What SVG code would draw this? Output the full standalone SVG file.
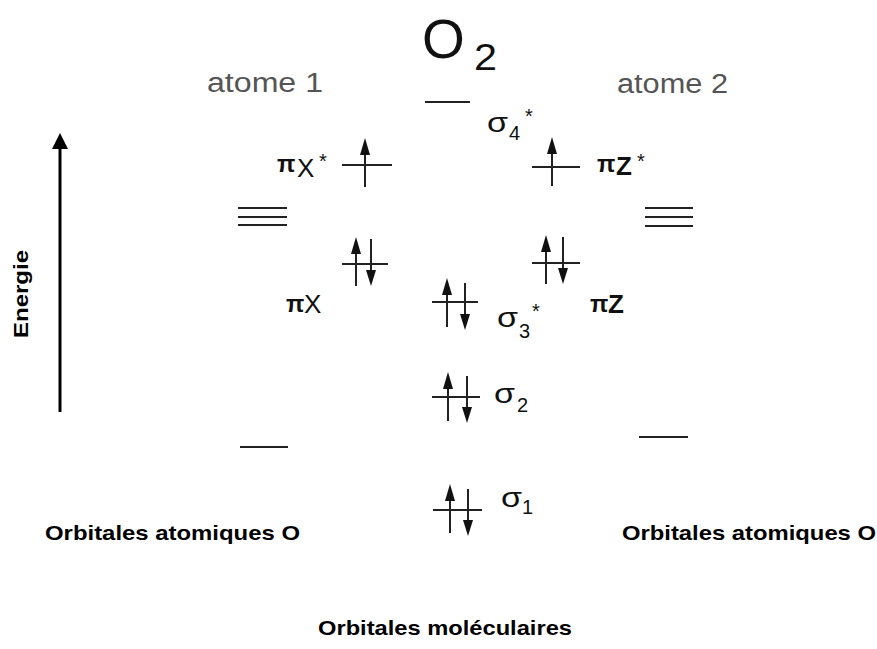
<svg xmlns="http://www.w3.org/2000/svg" xmlns:xlink="http://www.w3.org/1999/xlink" width="877" height="649" viewBox="0 0 877 649">
<style>
.lvl{stroke:#222;stroke-width:2;fill:none}
.t{font-family:"Liberation Sans",Arial,sans-serif;fill:#111}
.g{font-family:"Liberation Sans",Arial,sans-serif;fill:#555;font-size:27px}
.b{font-family:"Liberation Sans",Arial,sans-serif;font-weight:bold;font-size:21px;fill:#000}
.sig{font-size:28px}
.sub{font-size:20px}
.pi{font-size:24px;font-weight:bold}
.ax{font-size:26px}
.st{font-size:20px}
</style>
<defs>
<g id="up"><line x1="0" y1="6" x2="0" y2="49" stroke="#222" stroke-width="2"/><polygon points="0,0 -5,17 5,17" fill="#111"/></g>
<g id="down"><line x1="0" y1="0" x2="0" y2="42" stroke="#222" stroke-width="2"/><polygon points="0,47 -5,31 5,31" fill="#111"/></g>
</defs>

<g id="title"><text class="t" x="422" y="58" font-size="55">O</text><text class="t" x="474" y="70" font-size="36" textLength="23" lengthAdjust="spacingAndGlyphs">2</text></g>
<g id="atome1"><text class="g" x="207" y="92" textLength="116" lengthAdjust="spacingAndGlyphs">atome 1</text></g>
<g id="atome2"><text class="g" x="617" y="93" textLength="111" lengthAdjust="spacingAndGlyphs">atome 2</text></g>

<g id="axis">
<line x1="60" y1="412" x2="60" y2="146" stroke="#000" stroke-width="3"/>
<polygon points="60,133 52,149 68,149" fill="#000"/>
<text class="b" transform="translate(28,294) rotate(-90)" text-anchor="middle" textLength="88" lengthAdjust="spacingAndGlyphs">Energie</text>
</g>

<g id="sigma4">
<line class="lvl" x1="425" y1="102" x2="470" y2="102"/>
<text class="t sig" x="487" y="132" textLength="21" lengthAdjust="spacingAndGlyphs">σ</text><text class="t sub" x="509" y="140">4</text><text class="t st" x="525" y="123">*</text>
</g>

<g id="pix-star">
<line class="lvl" x1="342" y1="165" x2="392" y2="165"/>
<use xlink:href="#up" x="365" y="138"/>
<text class="t pi" x="277" y="172">π</text><text class="t ax" x="297" y="177">X</text><text class="t st" x="319" y="168">*</text>
</g>

<g id="piz-star">
<line class="lvl" x1="532" y1="167" x2="580" y2="167"/>
<use xlink:href="#up" x="552" y="137"/>
<text class="t pi" x="597" y="172">π</text><text class="t ax" x="616" y="175" font-weight="bold">Z</text><text class="t st" x="637" y="168">*</text>
</g>

<g id="ao2p-left">
<line class="lvl" x1="238" y1="208" x2="287" y2="208"/>
<line class="lvl" x1="238" y1="217" x2="287" y2="217"/>
<line class="lvl" x1="238" y1="225" x2="287" y2="225"/>
</g>
<g id="ao2p-right">
<line class="lvl" x1="645" y1="208" x2="693" y2="208"/>
<line class="lvl" x1="645" y1="217" x2="693" y2="217"/>
<line class="lvl" x1="645" y1="226" x2="693" y2="226"/>
</g>

<g id="pix">
<line class="lvl" x1="342" y1="264" x2="388" y2="264"/>
<use xlink:href="#up" x="356" y="237"/>
<use xlink:href="#down" x="371" y="239"/>
<text class="t pi" x="286" y="312">π</text><text class="t ax" x="304" y="313">X</text>
</g>

<g id="piz">
<line class="lvl" x1="532" y1="263" x2="580" y2="263"/>
<use xlink:href="#up" x="546" y="235"/>
<use xlink:href="#down" x="563" y="237"/>
<text class="t pi" x="590" y="312">π</text><text class="t ax" x="608" y="313" font-weight="bold">Z</text>
</g>

<g id="sigma3">
<line class="lvl" x1="432" y1="302" x2="478" y2="302"/>
<use xlink:href="#up" x="447" y="278"/>
<use xlink:href="#down" x="465" y="283"/>
<text class="t sig" x="497" y="327" textLength="21" lengthAdjust="spacingAndGlyphs">σ</text><text class="t sub" x="519" y="338">3</text><text class="t st" x="532" y="318">*</text>
</g>

<g id="sigma2">
<line class="lvl" x1="432" y1="397" x2="480" y2="397"/>
<use xlink:href="#up" x="448" y="372"/>
<use xlink:href="#down" x="467" y="376"/>
<text class="t sig" x="494" y="403" textLength="21" lengthAdjust="spacingAndGlyphs">σ</text><text class="t sub" x="517" y="412">2</text>
</g>

<g id="sigma1">
<line class="lvl" x1="433" y1="510" x2="482" y2="510"/>
<use xlink:href="#up" x="450" y="484"/>
<use xlink:href="#down" x="468" y="489"/>
<text class="t sig" x="501" y="507" textLength="21" lengthAdjust="spacingAndGlyphs">σ</text><text class="t sub" x="522" y="514">1</text>
</g>

<g id="ao2s-left"><line class="lvl" x1="240" y1="447" x2="288" y2="447"/></g>
<g id="ao2s-right"><line class="lvl" x1="639" y1="437" x2="688" y2="437"/></g>

<g id="labels">
<text class="b" x="45" y="540" textLength="255" lengthAdjust="spacingAndGlyphs">Orbitales atomiques O</text>
<text class="b" x="622" y="540" textLength="254" lengthAdjust="spacingAndGlyphs">Orbitales atomiques O</text>
<text class="b" x="318" y="635" textLength="254" lengthAdjust="spacingAndGlyphs">Orbitales moléculaires</text>
</g>
</svg>
